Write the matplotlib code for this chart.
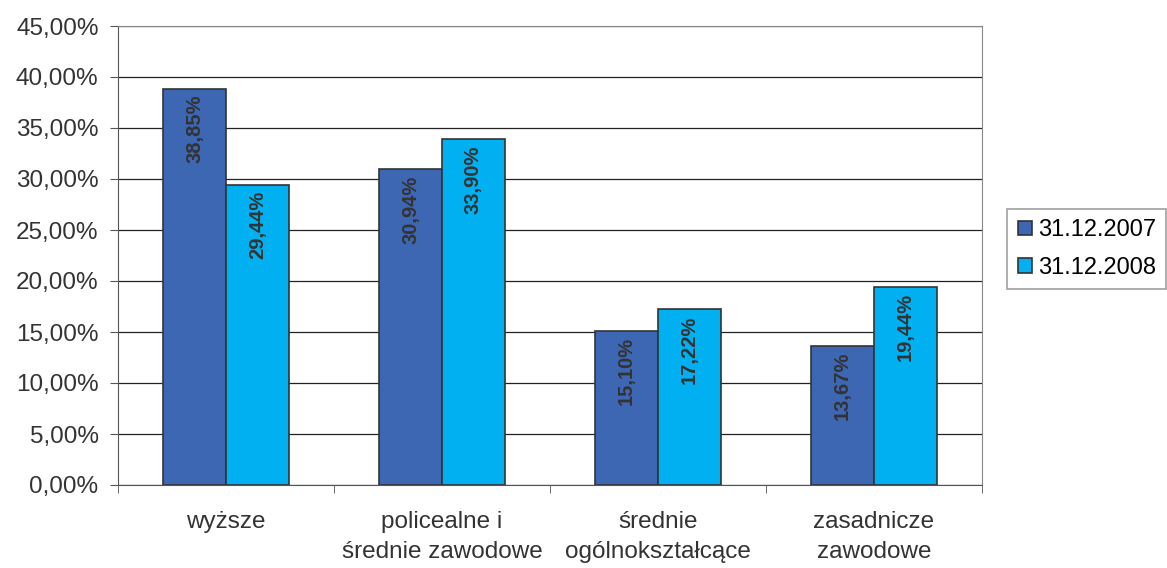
import matplotlib
matplotlib.use("Agg")
import matplotlib.pyplot as plt
import numpy as np
from matplotlib.ticker import FixedLocator

categories = ["wyższe", "policealne i\nśrednie zawodowe", "średnie\nogólnokształcące", "zasadnicze\nzawodowe"]
series_names = ["31.12.2007", "31.12.2008"]
values_2007 = [38.85, 30.94, 15.10, 13.67]
values_2008 = [29.44, 33.90, 17.22, 19.44]
colors = ["#3D66B3", "#00B0F0"]

plt.rcParams['font.family'] = ['Liberation Sans', 'DejaVu Sans']

fig = plt.figure(figsize=(11.67, 5.68), dpi=100)
ax = fig.add_axes([118/1167, 1-485/568, (982-118)/1167, (485-26)/568])

x = np.arange(len(categories))
w = 0.29
for i, (vals, name) in enumerate(zip([values_2007, values_2008], series_names)):
    pos = x + (i - 0.5) * w
    ax.bar(pos, vals, width=w, color=colors[i], edgecolor="#333333", linewidth=1.2, label=name, zorder=3)
    for xp, v in zip(pos, vals):
        ax.annotate(f"{v:.2f}%".replace(".", ","), xy=(xp, v), xytext=(0, -4.5), textcoords="offset points",
                    rotation=90, ha="center", va="top", fontsize=14.5, fontweight="bold", color="#333333", zorder=4)

ax.set_xlim(-0.5, len(categories) - 0.5)
ax.set_ylim(0, 45)
ax.set_yticks(np.arange(0, 46, 5))
ax.set_yticklabels([f"{t:.2f}%".replace(".", ",") for t in np.arange(0, 46, 5)], fontsize=17.5, color="#333333")
ax.yaxis.grid(True, color="#222222", linewidth=0.9, zorder=0)
ax.set_axisbelow(True)

ax.set_xticks(x)
ax.set_xticklabels(categories, fontsize=17.5, color="#333333", linespacing=1.45)
ax.tick_params(axis="x", length=0, pad=19)
ax.xaxis.set_minor_locator(FixedLocator(np.arange(-0.5, len(categories), 1.0)))
ax.tick_params(axis="x", which="minor", length=6, color="#555555")
ax.tick_params(axis="y", length=6, color="#555555", pad=8)

for s in ["top", "right"]:
    ax.spines[s].set_color("#888888")
for s in ["left", "bottom"]:
    ax.spines[s].set_color("#555555")

leg = fig.legend(loc="center left", bbox_to_anchor=(1007/1167, 1-249/568), fontsize=17, frameon=True,
                 fancybox=False, edgecolor="#888888", handlelength=0.6, handleheight=0.6, handletextpad=0.25,
                 borderpad=0.45, labelspacing=0.65, borderaxespad=0)
leg.get_frame().set_linewidth(1.2)

fig.savefig("out.png", dpi=100)
